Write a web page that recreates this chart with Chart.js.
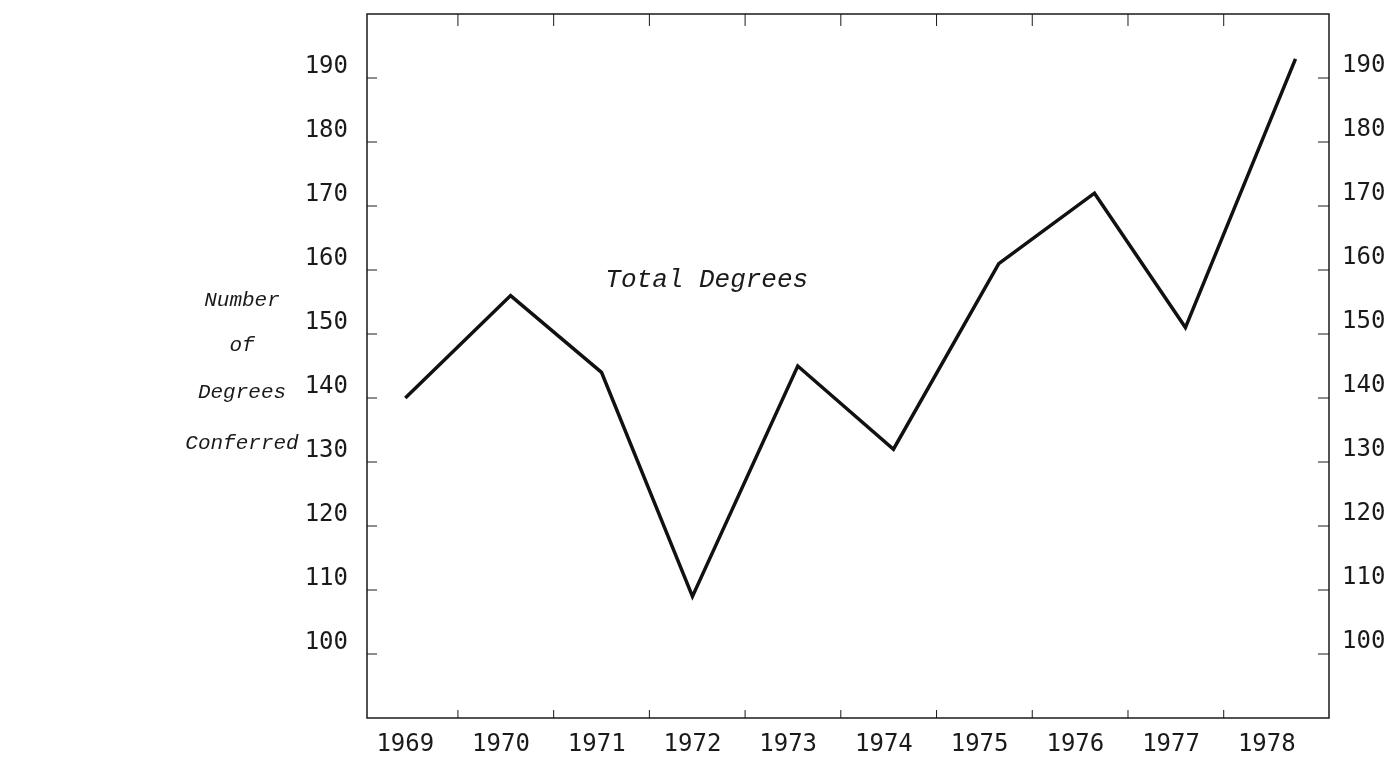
<!DOCTYPE html>
<html>
<head>
<meta charset="utf-8">
<script src="https://cdn.jsdelivr.net/npm/chart.js@4"></script>
<style>
  html, body { margin: 0; padding: 0; background: #fff; }
  #wrap { width: 1398px; height: 761px; }
</style>
</head>
<body>
<div id="wrap"><canvas id="degreesChart" width="1398" height="761"></canvas></div>
<script>
// values
const years = [1969, 1970, 1971, 1972, 1973, 1974, 1975, 1976, 1977, 1978];
const plotYears = [1969.0, 1970.1, 1971.05, 1972.0, 1973.1, 1974.1, 1975.2, 1976.2, 1977.15, 1978.3];
const totalDegrees = [140, 156, 144, 109, 145, 132, 161, 172, 151, 193];
const yTicks = [100, 110, 120, 130, 140, 150, 160, 170, 180, 190];
const xFrameTicks = [1969.55, 1970.55, 1971.55, 1972.55, 1973.55, 1974.55, 1975.55, 1976.55, 1977.55];
const yTitleLines = ['Number', 'of', 'Degrees', 'Conferred'];

document.addEventListener('DOMContentLoaded', function() {
    const ctx = document.getElementById('degreesChart').getContext('2d');
    const tickFont = { family: 'DejaVu Sans Mono', size: 24 };
    const ink = '#1a1a1a';

    // no edge padding from the tick labels, the frame sits where the layout puts it
    const noEdgePadding = s => {
        s.paddingTop = 0; s.paddingBottom = 0;
        s.paddingLeft = 0; s.paddingRight = 0;
    };

    // frame, inward ticks and the typed captions
    const framePlugin = {
        id: 'frame',
        afterDraw(chart) {
            const c = chart.ctx;
            const a = chart.chartArea;
            const x = chart.scales.x;
            const y = chart.scales.y;
            c.save();
            c.strokeStyle = ink;
            c.lineWidth = 1.5;
            c.strokeRect(a.left, a.top, a.right - a.left, a.bottom - a.top);
            c.lineWidth = 1;
            yTicks.forEach(v => {
                const py = y.getPixelForValue(v);
                c.beginPath();
                c.moveTo(a.left, py); c.lineTo(a.left + 10, py);
                c.moveTo(a.right, py); c.lineTo(a.right - 11, py);
                c.stroke();
            });
            xFrameTicks.forEach(v => {
                const px = x.getPixelForValue(v);
                c.beginPath();
                c.moveTo(px, a.bottom); c.lineTo(px, a.bottom - 8);
                c.moveTo(px, a.top); c.lineTo(px, a.top + 12);
                c.stroke();
            });
            c.fillStyle = ink;
            c.font = 'italic 26px "Liberation Mono"';
            c.textAlign = 'left';
            c.textBaseline = 'middle';
            c.fillText('Total Degrees', x.getPixelForValue(1971.09), y.getPixelForValue(158.4));
            c.font = 'italic 21px "Liberation Mono"';
            c.textAlign = 'center';
            const rows = [300, 345, 392, 443];
            yTitleLines.forEach((t, i) => {
                c.fillText(t, 242, rows[i]);
            });
            c.restore();
        }
    };

    new Chart(ctx, {
        type: 'line',
        data: {
            datasets: [{
                label: 'Total Degrees',
                data: plotYears.map((x, i) => ({ x: x, y: totalDegrees[i] })),
                borderColor: '#111',
                borderWidth: 3.5,
                pointRadius: 0,
                tension: 0,
                fill: false
            }]
        },
        options: {
            responsive: false,
            animation: false,
            layout: { padding: { top: 14, left: 0, right: 0, bottom: 0 } },
            scales: {
                x: {
                    type: 'linear',
                    min: 1968.6,
                    max: 1978.65,
                    grid: { display: false, drawTicks: false },
                    border: { display: false },
                    afterBuildTicks: s => { s.ticks = years.map(v => ({ value: v })); },
                    afterFit: s => { s.height = 43; noEdgePadding(s); },
                    ticks: {
                        color: ink,
                        font: tickFont,
                        padding: 12,
                        maxRotation: 0,
                        autoSkip: false,
                        callback: v => String(v)
                    }
                },
                y: {
                    position: 'left',
                    min: 90,
                    max: 200,
                    grid: { display: false, drawTicks: false },
                    border: { display: false },
                    afterBuildTicks: s => { s.ticks = yTicks.map(v => ({ value: v })); },
                    afterFit: s => { s.width = 367; noEdgePadding(s); },
                    ticks: { color: ink, font: tickFont, padding: 19, labelOffset: -11 }
                },
                y2: {
                    position: 'right',
                    min: 90,
                    max: 200,
                    grid: { display: false, drawTicks: false },
                    border: { display: false },
                    afterBuildTicks: s => { s.ticks = yTicks.map(v => ({ value: v })); },
                    afterFit: s => { s.width = 69; noEdgePadding(s); },
                    ticks: { color: ink, font: tickFont, padding: 13, labelOffset: -12 }
                }
            },
            plugins: {
                legend: { display: false },
                title: { display: false },
                tooltip: { enabled: false }
            }
        },
        plugins: [framePlugin]
    });
});
</script>
</body>
</html>
